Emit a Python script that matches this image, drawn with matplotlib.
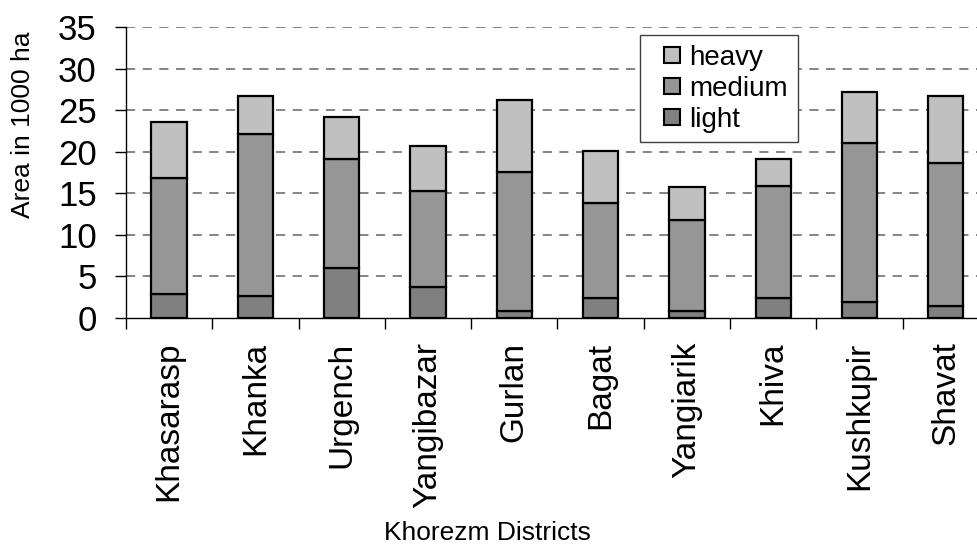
import numpy as np
import matplotlib
matplotlib.use("Agg")
import matplotlib.pyplot as plt
from matplotlib.lines import Line2D

plt.rcParams['font.family'] = ['Liberation Sans', 'DejaVu Sans']

districts = ["Khasarasp", "Khanka", "Urgench", "Yangibazar", "Gurlan",
             "Bagat", "Yangiarik", "Khiva", "Kushkupir", "Shavat"]
light = [2.9, 2.7, 6.0, 3.7, 0.9, 2.4, 0.9, 2.4, 1.9, 1.5]
medium = [13.9, 19.4, 13.1, 11.6, 16.7, 11.4, 10.9, 13.5, 19.2, 17.1]
heavy = [6.8, 4.6, 5.1, 5.4, 8.6, 6.3, 4.0, 3.2, 6.1, 8.1]

c_light, c_medium, c_heavy = "#808080", "#969696", "#C0C0C0"

fig = plt.figure(figsize=(9.78, 5.46), dpi=100)
ax = fig.add_axes([0.1288, 0.4176, 0.8824, 0.533])

x = np.arange(len(districts))
w = 0.41
bot2 = np.array(light) + np.array(medium)
ax.bar(x, light, w, color=c_light, edgecolor="black", linewidth=1.6, zorder=3)
ax.bar(x, medium, w, bottom=light, color=c_medium, edgecolor="black", linewidth=1.6, zorder=3)
ax.bar(x, heavy, w, bottom=bot2, color=c_heavy, edgecolor="black", linewidth=1.6, zorder=3)

ax.set_ylim(0, 35)
ax.set_xlim(-0.5, 9.5)
ax.set_yticks(np.arange(0, 36, 5))
ax.tick_params(axis="y", labelsize=25, length=8, width=1, direction="out", pad=13)
ax.set_xticks(x)
ax.set_xticklabels(districts, rotation=90, fontsize=24)
ax.tick_params(axis="x", which="major", length=0, pad=17)
ax.set_xticks(np.arange(-0.5, 10, 1), minor=True)
ax.tick_params(axis="x", which="minor", length=8, width=1, direction="out")

for y in range(5, 36, 5):
    ax.axhline(y, color="#707070", linewidth=1.2, linestyle=(0, (5.5, 4.5)), zorder=1)

ax.spines["top"].set_visible(False)
ax.spines["right"].set_visible(False)
ax.spines["left"].set_linewidth(1)
ax.spines["bottom"].set_linewidth(1)

fig.text(23 / 978, 1 - 125 / 546, "Area in 1000 ha", rotation=90, ha="center", va="center", fontsize=19)
fig.text(487 / 978, 1 - 533 / 546, "Khorezm Districts", ha="center", va="center", fontsize=19)

handles = [Line2D([], [], linestyle="none", marker="s", markersize=11.5,
                  markerfacecolor=c, markeredgecolor="black", markeredgewidth=1.5)
           for c in (c_heavy, c_medium, c_light)]
leg = ax.legend(handles, ["heavy", "medium", "light"], loc="upper left",
                bbox_to_anchor=(640 / 978, 1 - 35 / 546), bbox_transform=fig.transFigure,
                borderaxespad=0, fontsize=20, fancybox=False, framealpha=1,
                edgecolor="#404040", handlelength=1.57, handletextpad=-0.15,
                labelspacing=0.18, borderpad=0.35)
leg.get_frame().set_linewidth(1)
leg.set_zorder(5)

fig.savefig("out.png", dpi=100)
